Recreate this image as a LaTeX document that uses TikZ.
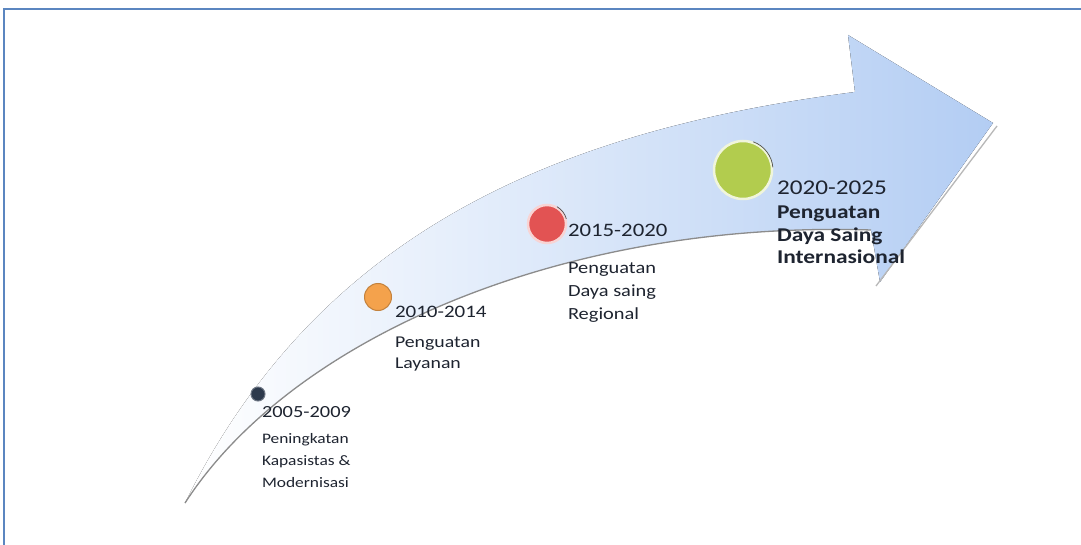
\documentclass[tikz,border=0pt]{standalone}
\usepackage{fontspec}
\setmainfont{Carlito}[FakeStretch=1.2]
\usepackage{xcolor}
\usepackage{tikz}
\usetikzlibrary{positioning,calc}
\definecolor{framecol}{HTML}{5B86C0}
\definecolor{arrowblue}{HTML}{B3CDF3}
\definecolor{textdark}{HTML}{1E2430}
\definecolor{navydot}{HTML}{2C394C}
\definecolor{orangedot}{HTML}{F4A24C}
\definecolor{reddot}{HTML}{E25353}
\definecolor{greendot}{HTML}{B2CC4E}

\begin{document}
\begin{tikzpicture}[x=1pt,y=-1pt,
          every node/.style={inner sep=0pt,outer sep=0pt,text=textdark},
          yearlbl/.style={anchor=base west},
          desclbl/.style={anchor=base west,align=left},
          dot/.style={circle,inner sep=0pt,line width=2.5pt},
          lowedge/.style={draw=black!45,line width=1.3pt},
          glint/.style={draw=black!70,line width=0.7pt}
      ]
        \useasboundingbox (0,0) rectangle (1081,545);
        \fill[white] (0,0) rectangle (1081,545);
        \draw[framecol,line width=1.6pt] (4,545) |- (1081,9);

        % rising arrow
        \fill[left color=white,middle color=arrowblue!45,right color=arrowblue]
          (185,503) .. controls (290,340) and (560,220) .. (871,230)
          -- (880,282) -- (993,123) -- (848,35) -- (855,92)
          .. controls (560,130) and (320,230) .. (185,503) -- cycle;
        \draw[lowedge] (185,503) .. controls (290,340) and (560,220) .. (871,230);
        \draw[lowedge,draw=black!28] (876,286) -- (997,126);

        \node[dot,fill=navydot,draw=navydot!70,line width=1pt,minimum size=14pt] (dot1) at (258,394) {};
        \node[dot,fill=orangedot,draw=orangedot!80!black,line width=1pt,minimum size=27pt] (dot2) at (378,297) {};
        \node[dot,fill=reddot,draw=reddot!25,minimum size=38pt] (dot3) at (547,224) {};
        \node[dot,fill=greendot,draw=greendot!20,minimum size=58pt] (dot4) at (743,170) {};
        \draw[glint] (dot3) ++(-60:20) arc[start angle=-60,end angle=-15,radius=20];
        \draw[glint] (dot4) ++(-70:30) arc[start angle=-70,end angle=-5,radius=30];

        % base west of a multi-line label is its last line
        \node[yearlbl,font=\fontsize{17}{22}\selectfont] (yr1) at (262,417) {2005-2009};
        \node[desclbl,font=\fontsize{14.5}{22}\selectfont] (ds1) at (262,487)
          {Peningkatan\\Kapasistas \&\\Modernisasi};

        \node[yearlbl,font=\fontsize{17.5}{21}\selectfont] (yr2) at (395,317) {2010-2014};
        \node[desclbl,font=\fontsize{16.5}{21}\selectfont] (ds2) at (395,368)
          {Penguatan\\Layanan};

        \node[yearlbl,font=\fontsize{19}{23}\selectfont] (yr3) at (568,237) {2015-2020};
        \node[desclbl,font=\fontsize{17}{23}\selectfont] (ds3) at (568,319)
          {Penguatan\\Daya saing\\Regional};

        \node[yearlbl,font=\fontsize{21}{23}\selectfont] (yr4) at (777,195) {2020-2025};
        \node[desclbl,font=\bfseries\fontsize{19.5}{22.5}\selectfont] (ds4) at (777,264)
          {Penguatan\\Daya Saing\\Internasional};
      \end{tikzpicture}
\end{document}
